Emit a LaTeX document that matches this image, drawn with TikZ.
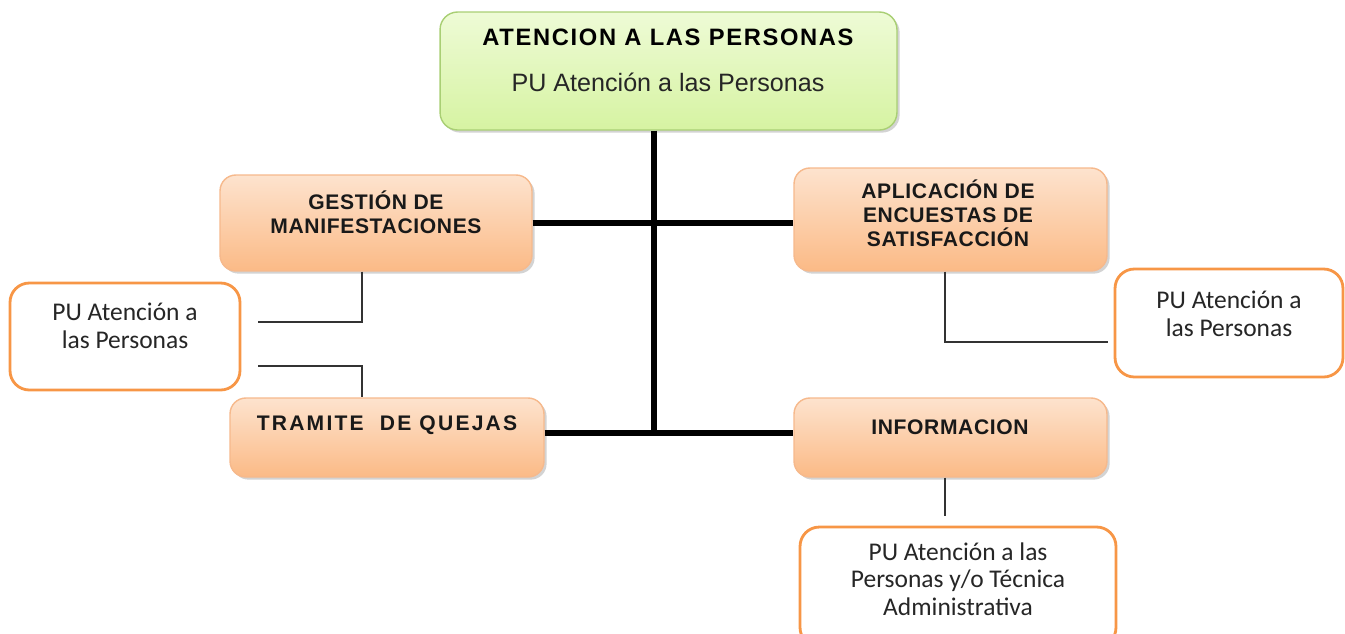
\documentclass[tikz,border=0pt]{standalone}
\usepackage{fontspec}
\setmainfont{Liberation Sans}
\newfontfamily\calibrifont{Carlito}
\newfontfamily\spacedfont[LetterSpace=3]{Liberation Sans}
\newfontfamily\widefont[LetterSpace=10.5]{Liberation Sans}
\newfontfamily\titlefont[LetterSpace=7]{Liberation Sans}
\usetikzlibrary{positioning, shadows}

\definecolor{greentop}{HTML}{EEFBD6}
\definecolor{greenbot}{HTML}{D6F3A2}
\definecolor{greenline}{HTML}{A9CF74}
\definecolor{orangetop}{HTML}{FDE3CE}
\definecolor{orangebot}{HTML}{FBBA86}
\definecolor{orangeline}{HTML}{F6B98C}
\definecolor{orangebold}{HTML}{F79646}

\tikzset{
    headbox/.style={draw=greenline, thick, rounded corners=10pt, top color=greentop, bottom color=greenbot,
        drop shadow={opacity=0.35, shadow xshift=1.5pt, shadow yshift=-1.5pt}},
    unitbox/.style={draw=orangeline, thick, rounded corners=9pt, top color=orangetop, bottom color=orangebot,
        drop shadow={opacity=0.35, shadow xshift=1.5pt, shadow yshift=-1.5pt}},
    staffbox/.style={draw=orangebold, line width=1.6pt, rounded corners=11pt, fill=white},
    unittext/.style={font=\spacedfont\fontsize{12}{13.6}\selectfont\bfseries, align=center, text=black!90},
    stafftext/.style={font=\calibrifont\fontsize{14.5}{15.8}\selectfont, align=center, text=black!85},
    trunk/.style={line width=3pt, black},
    branch/.style={line width=0.8pt, black!80}
}

\begin{document}
\begin{tikzpicture}[x=0.02cm, y=-0.02cm]
        \useasboundingbox (0,0) rectangle (1345,633);

        % Head unit
        \node[headbox, minimum width=9.14cm, minimum height=2.36cm] (head) at (668.5,71) {};
        \node[font=\titlefont\fontsize{13.5}{15}\selectfont\bfseries] (headtitle) at (668,37) {ATENCION A LAS PERSONAS};
        \node[font=\fontsize{14.3}{16}\selectfont, text=black!85] (headsub) at (668,82) {PU Atención a las Personas};

        % Units
        \node[unitbox, minimum width=6.24cm, minimum height=1.92cm] (gest) at (376,223) {};
        \node[unittext] at (376,212) {GESTIÓN DE\\MANIFESTACIONES};

        \node[unitbox, minimum width=6.26cm, minimum height=2.06cm] (apli) at (950.5,219.5) {};
        \node[unittext] at (948,213) {APLICACIÓN DE\\ENCUESTAS DE\\SATISFACCIÓN};

        \node[unitbox, minimum width=6.28cm, minimum height=1.58cm] (tram) at (387,437.5) {};
        \node[unittext, font=\widefont\fontsize{12}{13.6}\selectfont\bfseries] at (387,425) {TRAMITE\ \ DE QUEJAS};

        \node[unitbox, minimum width=6.26cm, minimum height=1.58cm] (info) at (950.5,437.5) {};
        \node[unittext] at (950,427) {INFORMACION};

        % Staff
        \node[staffbox, minimum width=4.6cm, minimum height=2.14cm] (staffleft) at (125,336.5) {};
        \node[stafftext] at (125,326) {PU Atención a\\las Personas};

        \node[staffbox, minimum width=4.56cm, minimum height=2.16cm] (staffright) at (1229,323) {};
        \node[stafftext] at (1229,314) {PU Atención a\\las Personas};

        \node[staffbox, minimum width=6.32cm, minimum height=2.4cm] (staffbot) at (958,587) {};
        \node[stafftext] at (958,579) {PU Atención a las\\Personas y/o Técnica\\Administrativa};

        % Free ends of thin connectors
        \coordinate (gestend) at (258,322);
        \coordinate (tramend) at (258,366);
        \coordinate (apliend) at (1108,342);
        \coordinate (infoend) at (945,516);
        \coordinate (trunkend) at (654,433);

        % Trunk lines
        \draw[trunk] (head.south -| trunkend) -- (trunkend);
        \draw[trunk] (gest.east) -- (apli.west |- gest.east);
        \draw[trunk] (tram.east |- trunkend) -- (info.west |- trunkend);

        % Thin connectors
        \draw[branch] (gest.south -| 362,0) |- (gestend);
        \draw[branch] (tramend) -| (tram.north -| 362,0);
        \draw[branch] (apli.south -| 945,0) |- (apliend);
        \draw[branch] (info.south -| infoend) -- (infoend);

    \end{tikzpicture}
\end{document}
